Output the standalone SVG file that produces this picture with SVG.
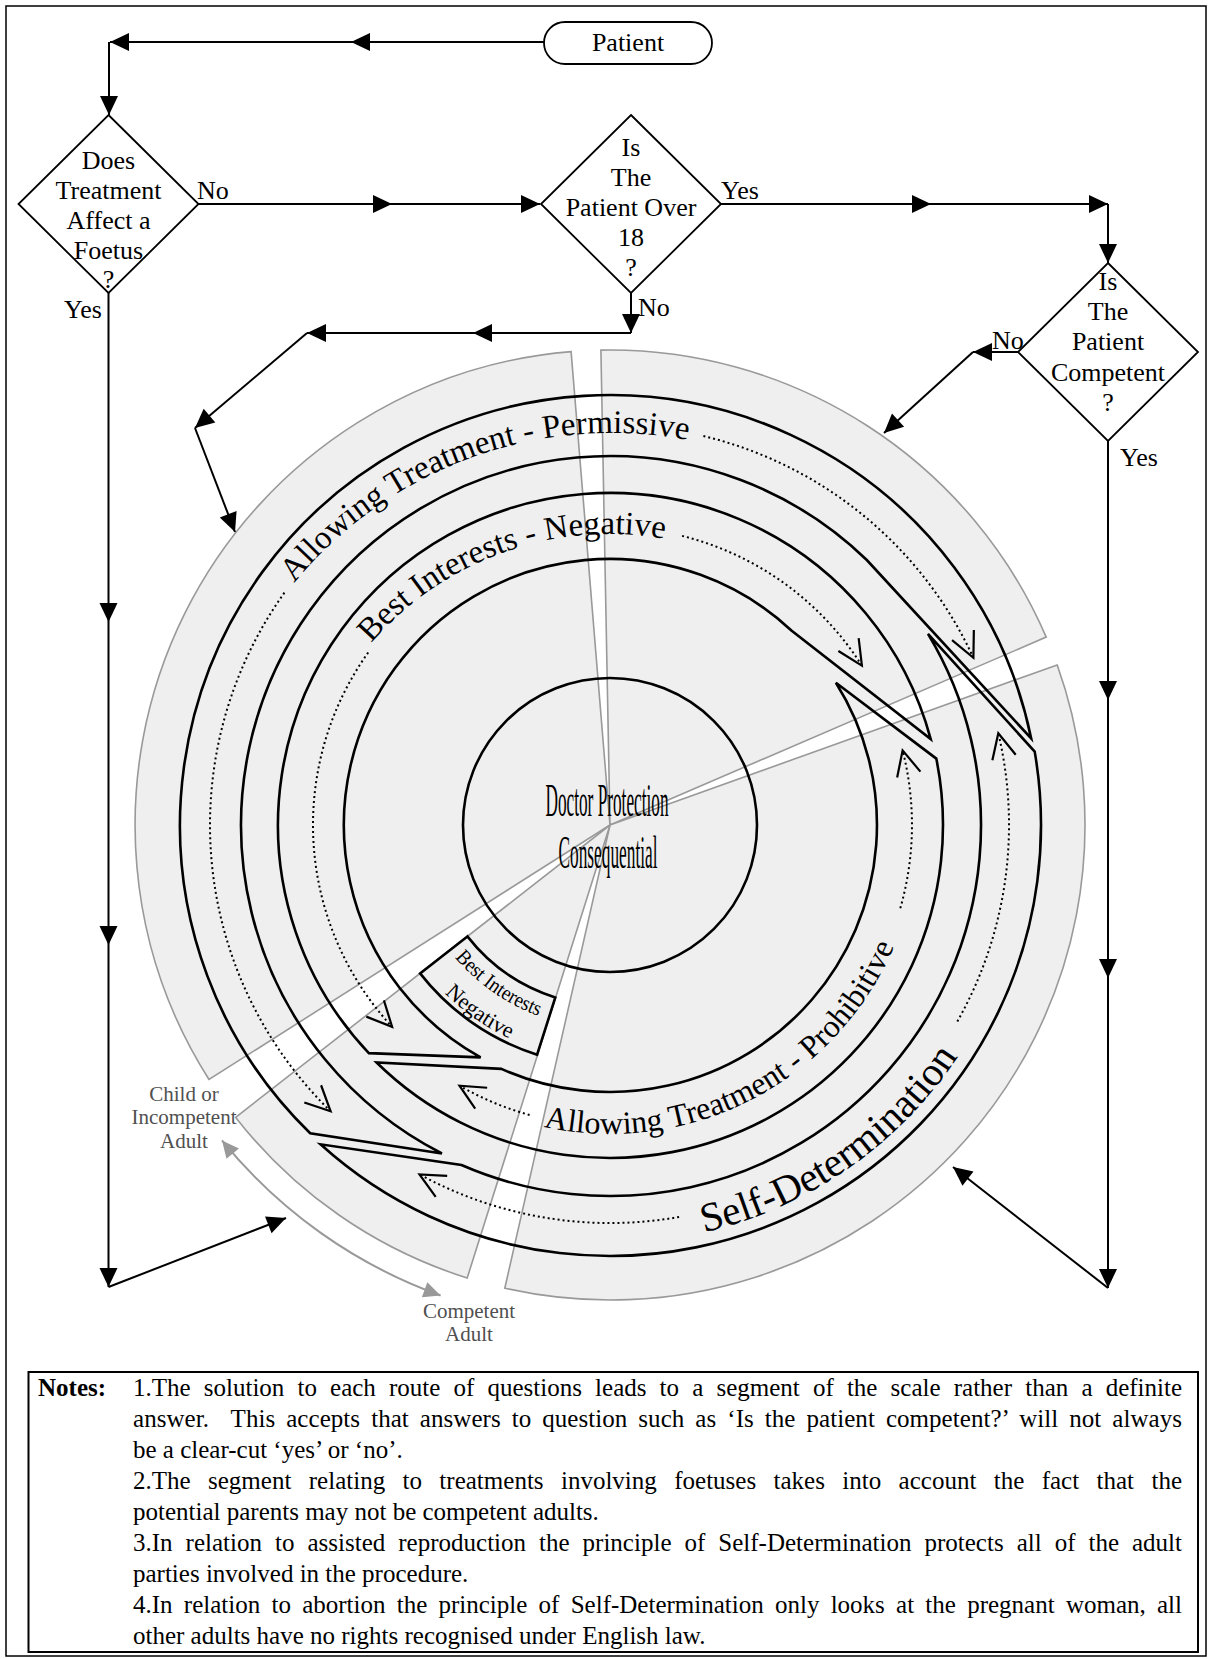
<svg xmlns="http://www.w3.org/2000/svg" width="1209" height="1659" viewBox="0 0 1209 1659">
<style>
.t{font-family:"Liberation Serif","Times New Roman",serif;fill:#000}
.ln{stroke:#000;stroke-width:2;fill:none}
.shape{stroke:#000;stroke-width:1.8;fill:#fff}
.seg{fill:#efefef;stroke:#999;stroke-width:1.6}
.band{stroke:#000;stroke-width:2.6;fill:none}
.dot{stroke:#000;stroke-width:2;fill:none;stroke-dasharray:2 3}
.gray{fill:#505050;font-family:"Liberation Serif","Times New Roman",serif;font-size:21px}
</style>
<defs>
<marker id="ah" markerUnits="userSpaceOnUse" markerWidth="20" markerHeight="18" refX="19" refY="9" orient="auto" overflow="visible"><path d="M0,0 L19,9 L0,18 Z" fill="#000"/></marker>
<marker id="gah" markerUnits="userSpaceOnUse" markerWidth="18" markerHeight="16" refX="17" refY="8" orient="auto-start-reverse" overflow="visible"><path d="M0,0 L17,8 L0,16 Z" fill="#999"/></marker>
<marker id="chev" markerUnits="userSpaceOnUse" markerWidth="30" markerHeight="30" refX="0" refY="0" orient="auto" overflow="visible"><path d="M-25,-12 L0,0 L-25,12" fill="none" stroke="#000" stroke-width="2.2"/></marker>
<path id="tp1" d="M294.1,582.9 A412 412 0 0 1 818,488.2"/>
<path id="tp2" d="M371.1,643.1 A316 316 0 0 1 768,576.3"/>
<path id="tp3" d="M543.7,1126.8 A309 309 0 0 0 914.3,878.6"/>
<path id="tp4" d="M704,1232.3 A418 418 0 0 0 1002.8,968"/>
<path id="tp5" d="M454.9,957.5 A204 204 0 0 0 574.6,1025.9"/>
<path id="tp6" d="M444.6,993.3 A236 236 0 0 0 569,1057.4"/>
</defs>
<rect x="6" y="6" width="1200" height="1650" fill="#fff" stroke="#000" stroke-width="1.5"/>

<g id="scale">
  <path class="seg" d="M610,825 L209.0,1079.5 A475 475 0 0 1 571.1,351.6 Z"/>
  <path class="seg" d="M610,825 L600.9,350.1 A475 475 0 0 1 1046.2,637.1 Z"/>
  <path class="seg" d="M610,825 L1057.2,664.9 A475 475 0 0 1 504.8,1288.2 Z"/>
  <path class="seg" d="M610,825 L467.2,1278.0 A475 475 0 0 1 235.7,1117.4 Z"/>
  <g id="band-best-interests">
    <path class="band" d="M480.6,1057.4 L368.8,1053.1 A332 332 0 1 1 930.7,739.1 L791.4,630.5 A266 266 0 1 0 480.6,1057.4 Z"/>
    <text class="t" font-size="33"><textPath href="#tp2">Best Interests - Negative</textPath></text>
    <path class="dot" d="M368.2,652.5 A297 297 0 0 0 392.1,1026.8" marker-end="url(#chev)"/>
    <path class="dot" d="M682.1,535.9 A298 298 0 0 1 861.9,665.7" marker-end="url(#chev)"/>
  </g>
  <g id="band-permissive">
    <path class="band" d="M441.9,1153.5 L310.2,1133.3 A430 430 0 1 1 1031.2,738.5 L866.8,560.0 A369 369 0 1 0 441.9,1153.5 Z"/>
    <text class="t" font-size="33"><textPath href="#tp1">Allowing Treatment - Permissive</textPath></text>
    <path class="dot" d="M284.4,592.7 A400 400 0 0 0 330.6,1111.3" marker-end="url(#chev)"/>
    <path class="dot" d="M703.4,436.0 A400 400 0 0 1 973.4,657.8" marker-end="url(#chev)"/>
  </g>
  <g id="band-prohibitive">
    <path class="band" d="M835.9,682.7 L936.3,758.6 A333 333 0 0 1 376.6,1062.5 L501.4,1068.9 A267 267 0 0 0 835.9,682.7 Z"/>
    <text class="t" font-size="32"><textPath href="#tp3">Allowing Treatment - Prohibitive</textPath></text>
    <path class="dot" d="M529.6,1115.0 A301 301 0 0 1 459.5,1085.7" marker-end="url(#chev)"/>
    <path class="dot" d="M900.3,908.2 A302 302 0 0 0 902.6,750.4" marker-end="url(#chev)"/>
  </g>
  <g id="band-self-determination">
    <path class="band" d="M928.0,633.9 L1034.7,751.6 A431 431 0 0 1 320.5,1144.3 L461.5,1165.0 A371 371 0 0 0 928.0,633.9 Z"/>
    <text class="t" font-size="41"><textPath href="#tp4">Self-Determination</textPath></text>
    <path class="dot" d="M679.1,1217.0 A398 398 0 0 1 419.5,1174.4" marker-end="url(#chev)"/>
    <path class="dot" d="M957.3,1021.5 A399 399 0 0 0 998.3,733.2" marker-end="url(#chev)"/>
  </g>
  <g id="box-best-interests">
    <path class="band" d="M467.4,936.4 L420.1,973.4 A241 241 0 0 0 537.1,1054.7 L555.3,997.5 A181 181 0 0 1 467.4,936.4 Z"/>
    <text class="t" font-size="21"><textPath href="#tp5" textLength="103" lengthAdjust="spacingAndGlyphs">Best Interests</textPath></text>
    <text class="t" font-size="22"><textPath href="#tp6">Negative</textPath></text>
  </g>
  <g id="core">
    <circle cx="610" cy="825" r="147" class="band"/>
    <text class="t" x="545.5" y="816" font-size="46" textLength="123" lengthAdjust="spacingAndGlyphs">Doctor Protection</text>
    <text class="t" x="558.5" y="868" font-size="46" textLength="99" lengthAdjust="spacingAndGlyphs">Consequential</text>
  </g>
  <g id="range">
    <path d="M222,1140.4 A500 500 0 0 0 440.6,1295.5" fill="none" stroke="#999" stroke-width="2" marker-start="url(#gah)" marker-end="url(#gah)"/>
    <text class="gray" text-anchor="middle" x="184" y="1101">Child or</text>
    <text class="gray" text-anchor="middle" x="184" y="1124">Incompetent</text>
    <text class="gray" text-anchor="middle" x="184" y="1148">Adult</text>
    <text class="gray" text-anchor="middle" x="469" y="1318">Competent</text>
    <text class="gray" text-anchor="middle" x="469" y="1341">Adult</text>
  </g>
</g>

<g id="connectors">
  <path class="ln" d="M544,42 L351,42 L110,42" marker-mid="url(#ah)" marker-end="url(#ah)"/>
  <path class="ln" d="M109,42 L109,115" marker-end="url(#ah)"/>
  <path class="ln" d="M198.5,204 L392,204 L540,204" marker-mid="url(#ah)" marker-end="url(#ah)"/>
  <path class="ln" d="M721,204 L931,204 L1108,204" marker-mid="url(#ah)" marker-end="url(#ah)"/>
  <path class="ln" d="M1108,204 L1108,263" marker-end="url(#ah)"/>
  <path class="ln" d="M631,293 L631,333" marker-end="url(#ah)"/>
  <path class="ln" d="M631,333 L473,333 L307,333" marker-mid="url(#ah)" marker-end="url(#ah)"/>
  <path class="ln" d="M307,333 L195,428" marker-end="url(#ah)"/>
  <path class="ln" d="M195,428 L235,532" marker-end="url(#ah)"/>
  <path class="ln" d="M1018,352 L973,352" marker-end="url(#ah)"/>
  <path class="ln" d="M973,352 L884,433" marker-end="url(#ah)"/>
  <path class="ln" d="M1108,441 L1108,700 L1108,978 L1108,1288" marker-mid="url(#ah)" marker-end="url(#ah)"/>
  <path class="ln" d="M1108,1288 L953,1167" marker-end="url(#ah)"/>
  <path class="ln" d="M108.5,293 L108.5,622 L108.5,945 L108.5,1287" marker-mid="url(#ah)" marker-end="url(#ah)"/>
  <path class="ln" d="M108.5,1287 L286,1218" marker-end="url(#ah)"/>
  <text class="t" font-size="26" x="197" y="199">No</text>
  <text class="t" font-size="26" x="64" y="318">Yes</text>
  <text class="t" font-size="26" x="721" y="199">Yes</text>
  <text class="t" font-size="26" x="638" y="316">No</text>
  <text class="t" font-size="26" x="992" y="349">No</text>
  <text class="t" font-size="26" x="1120" y="466">Yes</text>
</g>

<g id="patient">
  <rect class="shape" x="544" y="22" width="168" height="42" rx="21"/>
  <text class="t" font-size="26" text-anchor="middle" x="628" y="51">Patient</text>
</g>
<g id="q-foetus">
  <polygon class="shape" points="108.5,115 198.5,204 108.5,293 18.5,204"/>
  <g class="t" font-size="26" text-anchor="middle">
    <text x="108.5" y="169">Does</text>
    <text x="108.5" y="199">Treatment</text>
    <text x="108.5" y="229">Affect a</text>
    <text x="108.5" y="259">Foetus</text>
    <text x="108.5" y="288">?</text>
  </g>
</g>
<g id="q-over18">
  <polygon class="shape" points="631,115 721,204 631,293 541,204"/>
  <g class="t" font-size="26" text-anchor="middle">
    <text x="631" y="156">Is</text>
    <text x="631" y="186">The</text>
    <text x="631" y="216">Patient Over</text>
    <text x="631" y="246">18</text>
    <text x="631" y="276">?</text>
  </g>
</g>
<g id="q-competent">
  <polygon class="shape" points="1108,263 1198,352 1108,441 1018,352"/>
  <g class="t" font-size="26" text-anchor="middle">
    <text x="1108" y="290">Is</text>
    <text x="1108" y="320">The</text>
    <text x="1108" y="350">Patient</text>
    <text x="1108" y="381">Competent</text>
    <text x="1108" y="411">?</text>
  </g>
</g>

<g id="notes">
  <rect x="28.5" y="1372" width="1169.5" height="280" fill="#fff" stroke="#000" stroke-width="2"/>
  <text class="t" font-size="25" font-weight="bold" x="38" y="1396">Notes:</text>
  <g class="t" font-size="25">
    <text x="133" y="1396" word-spacing="6.9" textLength="1049" lengthAdjust="spacing">1.The solution to each route of questions leads to a segment of the scale rather than a definite</text>
    <text x="133" y="1427" word-spacing="4.7" textLength="1049" lengthAdjust="spacing">answer.&#160; This accepts that answers to question such as ‘Is the patient competent?’ will not always</text>
    <text x="133" y="1458">be a clear-cut ‘yes’ or ‘no’.</text>
    <text x="133" y="1489" word-spacing="11.1" textLength="1049" lengthAdjust="spacing">2.The segment relating to treatments involving foetuses takes into account the fact that the</text>
    <text x="133" y="1520">potential parents may not be competent adults.</text>
    <text x="133" y="1551" word-spacing="6.7" textLength="1049" lengthAdjust="spacing">3.In relation to assisted reproduction the principle of Self-Determination protects all of the adult</text>
    <text x="133" y="1582">parties involved in the procedure.</text>
    <text x="133" y="1613" word-spacing="5" textLength="1049" lengthAdjust="spacing">4.In relation to abortion the principle of Self-Determination only looks at the pregnant woman, all</text>
    <text x="133" y="1644">other adults have no rights recognised under English law.</text>
  </g>
</g>
</svg>
